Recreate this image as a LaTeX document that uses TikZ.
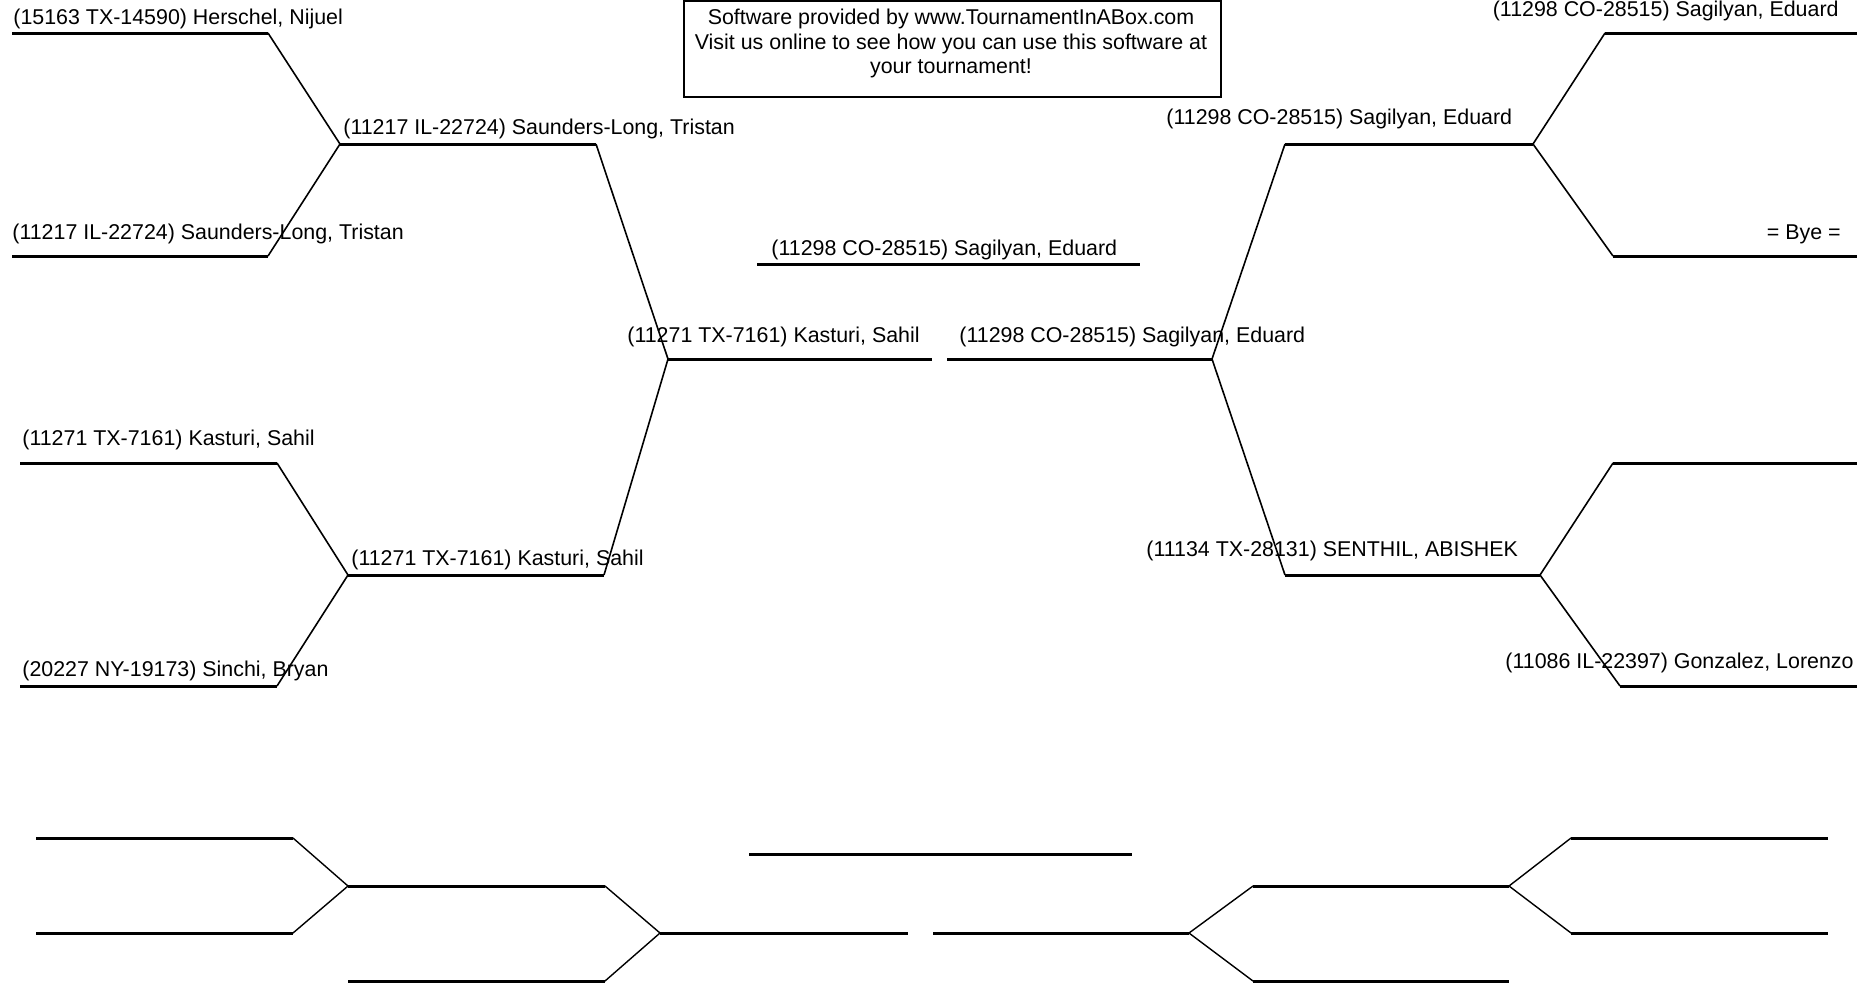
\documentclass[tikz,border=0pt]{standalone}
\usepackage{fontspec}
\setmainfont{Liberation Sans}
\begin{document}
\begin{tikzpicture}[x=0.5pt,y=-0.5pt,
  wline/.style={line width=1.5pt,line cap=butt},
  link/.style={line width=0.8pt},
  plink/.style={line width=0.7pt},
  pname/.style={inner sep=0pt,anchor=base west,font=\fontsize{10.7pt}{12.25pt}\selectfont},
  rname/.style={pname,anchor=base east},
  infobox/.style={draw,line width=0.6pt,minimum width=268.5pt,minimum height=48pt,inner sep=0pt},
  infoline/.style={inner sep=0pt,anchor=base,font=\fontsize{10.7pt}{12.25pt}\selectfont}]
\useasboundingbox (0,0) rectangle (1857,982);
\fill[white] (0,0) rectangle (1857,982);

% ---------- upper bracket: coordinates ----------
\coordinate (a1s) at (12,33);   \coordinate (a1e) at (268,33);
\coordinate (a2s) at (12,256);  \coordinate (a2e) at (268,256);
\coordinate (a3s) at (20,463);  \coordinate (a3e) at (277,463);
\coordinate (a4s) at (20,686);  \coordinate (a4e) at (277,686);
\coordinate (b1s) at (340,144); \coordinate (b1e) at (596,144);
\coordinate (b2s) at (348,575); \coordinate (b2e) at (604,575);
\coordinate (c1s) at (668,359); \coordinate (c1e) at (932,359);
\coordinate (fs) at (757,264);  \coordinate (fe) at (1140,264);
\coordinate (c2s) at (947,359); \coordinate (c2e) at (1212,359);
\coordinate (b3s) at (1285,144); \coordinate (b3e) at (1533,144);
\coordinate (b4s) at (1285,575); \coordinate (b4e) at (1540,575);
\coordinate (a5s) at (1605,33);  \coordinate (a5e) at (1857,33);
\coordinate (a6s) at (1613,256); \coordinate (a6e) at (1857,256);
\coordinate (a7s) at (1613,463); \coordinate (a7e) at (1857,463);
\coordinate (a8s) at (1620,686); \coordinate (a8e) at (1857,686);

% horizontal lines
\foreach \p in {a1,a2,a3,a4,b1,b2,c1,f,c2,b3,b4,a5,a6,a7,a8}
  \draw[wline] (\p s) -- (\p e);
% connectors
\draw[link] (a1e) -- (b1s) -- (a2e);
\draw[link] (a3e) -- (b2s) -- (a4e);
\draw[link] (b1e) -- (c1s) -- (b2e);
\draw[link] (b3s) -- (c2e) -- (b4s);
\draw[link] (a5s) -- (b3e) -- (a6s);
\draw[link] (a7s) -- (b4e) -- (a8s);

% ---------- names ----------
\node[pname] (t1) at (13,24) {(15163 TX-14590) Herschel, Nijuel};
\node[pname] (t2) at (12,239) {(11217 IL-22724) Saunders-Long, Tristan};
\node[pname] (t3) at (343,134) {(11217 IL-22724) Saunders-Long, Tristan};
\node[pname] (t4) at (22,445) {(11271 TX-7161) Kasturi, Sahil};
\node[pname] (t5) at (22,676) {(20227 NY-19173) Sinchi, Bryan};
\node[pname] (t6) at (351,565) {(11271 TX-7161) Kasturi, Sahil};
\node[pname] (t7) at (627,342) {(11271 TX-7161) Kasturi, Sahil};
\node[pname] (t8) at (771,255) {(11298 CO-28515) Sagilyan, Eduard};
\node[pname] (t9) at (959,342) {(11298 CO-28515) Sagilyan, Eduard};
\node[pname] (t10) at (1166,124) {(11298 CO-28515) Sagilyan, Eduard};
\node[rname] (t11) at (1839,16) {(11298 CO-28515) Sagilyan, Eduard};
\node[rname] (t12) at (1841,239) {= Bye =};
\node[pname] (t13) at (1146,556) {(11134 TX-28131) SENTHIL, ABISHEK};
\node[rname] (t14) at (1854,668) {(11086 IL-22397) Gonzalez, Lorenzo};

% ---------- info box ----------
\node[infobox] (box) at (952.5,49) {};
\node[infoline] (l1) at (951,24) {Software provided by www.TournamentInABox.com};
\node[infoline] (l2) at (951,49) {Visit us online to see how you can use this software at};
\node[infoline] (l3) at (951,73) {your tournament!};

% ---------- lower (empty) bracket ----------
\coordinate (d1s) at (36,838);   \coordinate (d1e) at (293,838);
\coordinate (d2s) at (36,933);   \coordinate (d2e) at (293,933);
\coordinate (e1s) at (348,886);  \coordinate (e1e) at (605,886);
\coordinate (e2s) at (348,981);  \coordinate (e2e) at (605,981);
\coordinate (g1s) at (660,933);  \coordinate (g1e) at (908,933);
\coordinate (hs) at (749,854);   \coordinate (he) at (1132,854);
\coordinate (g2s) at (933,933);  \coordinate (g2e) at (1189,933);
\coordinate (e3s) at (1253,886); \coordinate (e3e) at (1509,886);
\coordinate (e4s) at (1253,981); \coordinate (e4e) at (1509,981);
\coordinate (d3s) at (1571,838); \coordinate (d3e) at (1828,838);
\coordinate (d4s) at (1571,933); \coordinate (d4e) at (1828,933);
\foreach \p in {d1,d2,e1,e2,g1,h,g2,e3,e4,d3,d4}
  \draw[wline] (\p s) -- (\p e);
\draw[plink] (d1e) -- (e1s) -- (d2e);
\draw[plink] (e1e) -- (g1s) -- (e2e);
\draw[plink] (e3s) -- (g2e) -- (e4s);
\draw[plink] (d3s) -- (e3e) -- (d4s);
\end{tikzpicture}
\end{document}
